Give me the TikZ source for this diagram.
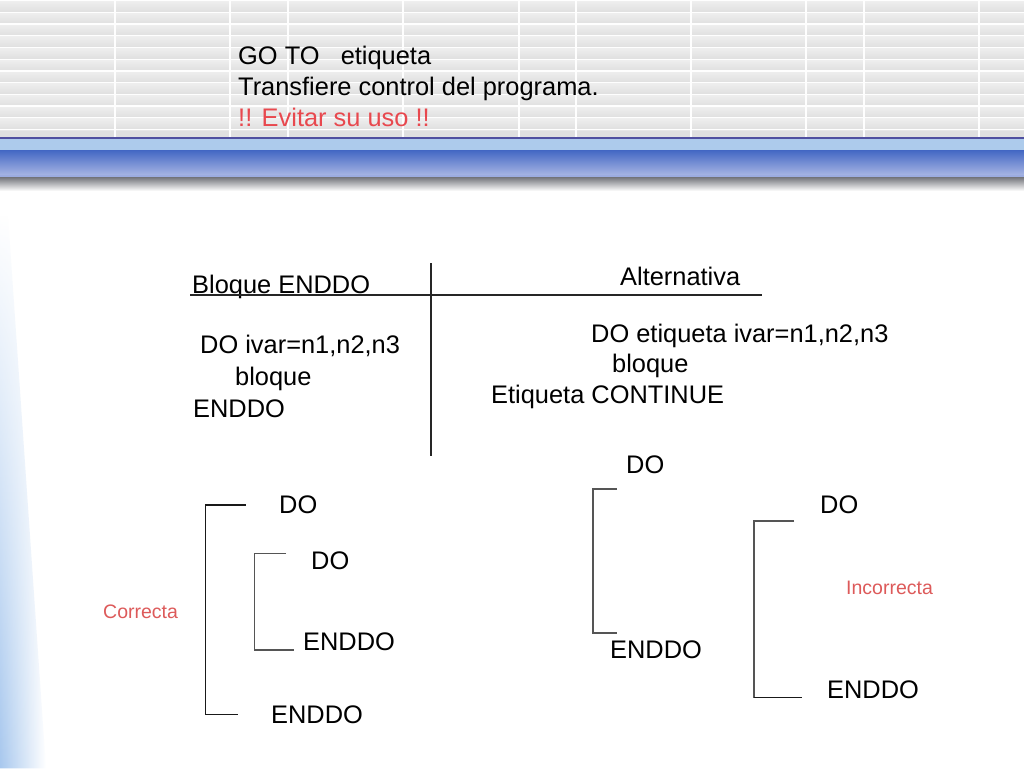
\documentclass[tikz,border=0pt]{standalone}
\usepackage{fontspec}
\setmainfont{Liberation Sans}
\usetikzlibrary{fadings}
\definecolor{hdrgrey}{HTML}{E7E7E7}
\definecolor{stripetop}{HTML}{EEEEEE}
\definecolor{stripebot}{HTML}{E0E0E0}
\definecolor{barline}{HTML}{5050A0}
\definecolor{lightband}{HTML}{ADCBEC}
\definecolor{bluetop}{HTML}{4468C4}
\definecolor{bluebot}{HTML}{A6B4E3}
\definecolor{shadowc}{HTML}{77787E}
\definecolor{redtxt}{HTML}{E8484E}
\definecolor{redsmall}{HTML}{DD5A5A}
\definecolor{leftblue}{HTML}{A8C8EE}
\definecolor{brkgrey}{HTML}{555555}
\tikzfading[name=fadeup, top color=transparent!100, bottom color=transparent!0]
\begin{document}
\begin{tikzpicture}[x=1pt,y=-1pt,
  txt/.style={anchor=base west, inner sep=0pt, font=\fontsize{25.4}{30}\selectfont},
  smalltxt/.style={anchor=base west, inner sep=0pt, font=\fontsize{19.5}{23}\selectfont, text=redsmall},
  rulel/.style={draw=black!85, line width=1.2pt},
  brkdark/.style={draw=black!90, line width=1.2pt},
  brkgr/.style={draw=brkgrey, line width=1.3pt}]
\useasboundingbox (0,0) rectangle (1024,768);
\fill[white] (0,0) rectangle (1024,768);
% header background
\fill[hdrgrey] (0,0) rectangle (1024,136.5);
\foreach \k in {0,...,11} \shade[top color=stripetop, bottom color=stripebot] (0,{-10.3+11.7*\k}) rectangle (1024,{0.1+11.7*\k});
\fill[stripebot] (0,130.8) rectangle (1024,136.5);
\foreach \k in {0,...,11} \fill[white!96!hdrgrey] (0,{0.1+11.7*\k}) rectangle (1024,{1.4+11.7*\k});
\foreach \x in {115,230,288,403,519,576,691,806,864,979} \fill[white!96!hdrgrey] (\x-0.7,0) rectangle (\x+0.7,136.5);
% blue bar
\fill[barline] (0,136.5) rectangle (1024,138.5);
\fill[lightband] (0,138.5) rectangle (1024,150.5);
\shade[top color=bluetop, bottom color=bluebot] (0,150.5) rectangle (1024,175);
\fill[bluebot!90!bluetop] (0,175) rectangle (1024,177.5);
\shade[top color=shadowc, bottom color=white] (0,177.5) rectangle (1024,191);
% left gradient
\shade[left color=leftblue, right color=white, path fading=fadeup] (0,215) -- (0,768) -- (46,768) -- (8,215) -- cycle;
% header texts
\node[txt] (t1) at (238,64) {GO TO\ \ \ etiqueta};
\node[txt] (t2) at (238,95) {Transfiere control del programa.};
\node[txt, text=redtxt] (t3) at (238,126) {!! Evitar su uso !!};
% table
\node[txt] (bq) at (192,293) {Bloque ENDDO};
\node[txt] (alt) at (620,285) {Alternativa};
\coordinate (hla) at (190,295);
\coordinate (hlb) at (762,295);
\draw[rulel] (hla) -- (hlb);
\coordinate (vla) at (431,263);
\coordinate (vlb) at (431,456);
\draw[rulel] (vla) -- (vlb);
\node[txt] (l1) at (200,353) {DO ivar=n1,n2,n3};
\node[txt] (l2) at (235,385) {bloque};
\node[txt] (l3) at (193,417) {ENDDO};
\node[txt] (r1) at (591,342) {DO etiqueta ivar=n1,n2,n3};
\node[txt] (r2) at (612,372) {bloque};
\node[txt] (r3) at (491,403) {Etiqueta CONTINUE};
% left nested brackets
\coordinate (oa) at (245.5,505); \coordinate (ob) at (205.5,505);
\coordinate (oc) at (205.5,714.5); \coordinate (od) at (238,714.5);
\draw[brkdark] (oa) -- (ob) -- (oc) -- (od);
\coordinate (ia) at (286,553.5); \coordinate (ib) at (254.5,553.5);
\coordinate (ic) at (254.5,650); \coordinate (id) at (294,650);
\draw[brkgr] (ia) -- (ib) -- (ic) -- (id);
\node[txt] (d1) at (279,513) {DO};
\node[txt] (d2) at (311,569) {DO};
\node[txt] (e2) at (303,650) {ENDDO};
\node[txt] (e1) at (271,723) {ENDDO};
\node[smalltxt] (ok) at (103,618) {Correcta};
% right overlapping brackets
\node[txt] (d3) at (626,473) {DO};
\coordinate (ma) at (617,489); \coordinate (mb) at (593,489);
\coordinate (mc) at (593,633); \coordinate (md) at (617,633);
\draw[brkgr] (ma) -- (mb) -- (mc) -- (md);
\node[txt] (e3) at (610,658) {ENDDO};
\node[txt] (d4) at (820,513) {DO};
\coordinate (na) at (794,521); \coordinate (nb) at (754,521);
\coordinate (nc) at (754,697.5); \coordinate (nd) at (802,697.5);
\draw[brkgr] (na) -- (nb) -- (nc);
\draw[brkdark] (nc) -- (nd);
\node[smalltxt] (bad) at (846,594) {Incorrecta};
\node[txt] (e4) at (827,698) {ENDDO};
\end{tikzpicture}
\end{document}
